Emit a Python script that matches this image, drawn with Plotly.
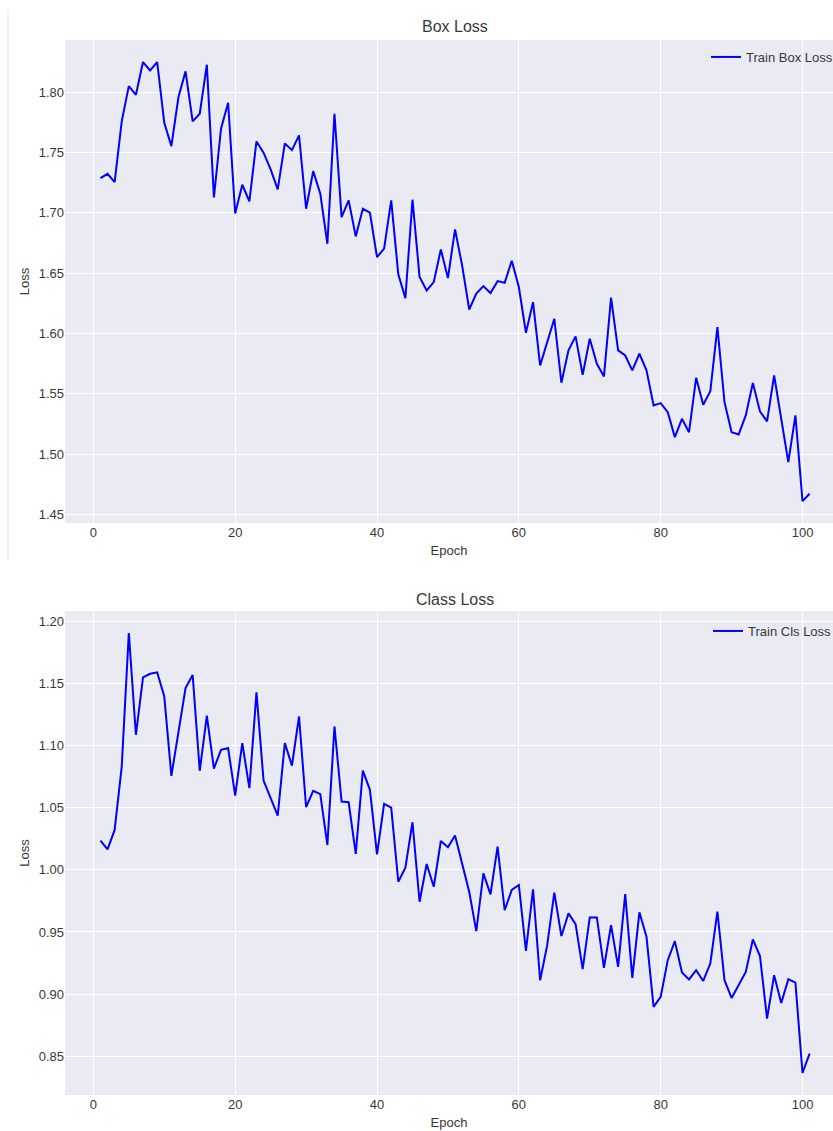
import plotly.graph_objects as go

epochs = list(range(1, 102))

box_loss = [
    1.7287, 1.7323, 1.7254, 1.7757, 1.8050, 1.7978, 1.8249, 1.8180, 1.8249, 1.7746,
    1.7552, 1.7959, 1.8172, 1.7757, 1.7821, 1.8227, 1.7127, 1.7697, 1.7912, 1.6994,
    1.7232, 1.7094, 1.7591, 1.7498, 1.7359, 1.7193, 1.7575, 1.7519, 1.7641, 1.7033,
    1.7345, 1.7158, 1.6743, 1.7821, 1.6964, 1.7102, 1.6804, 1.7033, 1.7000, 1.6632,
    1.6702, 1.7102, 1.6489, 1.6292, 1.7108, 1.6467, 1.6356, 1.6425, 1.6696, 1.6458,
    1.6862, 1.6563, 1.6198, 1.6329, 1.6392, 1.6334, 1.6433, 1.6420, 1.6602, 1.6384,
    1.6005, 1.6259, 1.5734, 1.5936, 1.6121, 1.5591, 1.5859, 1.5975, 1.5657, 1.5956,
    1.5748, 1.5643, 1.6296, 1.5859, 1.5817, 1.5693, 1.5831, 1.5693, 1.5403, 1.5422,
    1.5347, 1.5140, 1.5292, 1.5181, 1.5632, 1.5408, 1.5521, 1.6052, 1.5430, 1.5181,
    1.5162, 1.5320, 1.5588, 1.5353, 1.5270, 1.5651, 1.5292, 1.4933, 1.5320, 1.4609,
    1.4671,
]

cls_loss = [
    1.0235, 1.0165, 1.0321, 1.0831, 1.1906, 1.1087, 1.1549, 1.1578, 1.1589, 1.1396,
    1.0756, 1.1113, 1.1463, 1.1568, 1.0797, 1.1240, 1.0815, 1.0966, 1.0980, 1.0598,
    1.1020, 1.0657, 1.1428, 1.0718, 1.0577, 1.0436, 1.1020, 1.0839, 1.1234, 1.0504,
    1.0635, 1.0609, 1.0200, 1.1154, 1.0549, 1.0544, 1.0128, 1.0799, 1.0644, 1.0125,
    1.0531, 1.0501, 0.9904, 1.0017, 1.0383, 0.9743, 1.0047, 0.9864, 1.0232, 1.0182,
    1.0276, 1.0053, 0.9824, 0.9507, 0.9972, 0.9803, 1.0187, 0.9676, 0.9838, 0.9878,
    0.9348, 0.9843, 0.9112, 0.9394, 0.9816, 0.9467, 0.9650, 0.9563, 0.9201, 0.9617,
    0.9617, 0.9211, 0.9555, 0.9219, 0.9805, 0.9131, 0.9658, 0.9461, 0.8897, 0.8978,
    0.9273, 0.9426, 0.9174, 0.9118, 0.9193, 0.9106, 0.9247, 0.9663, 0.9112, 0.8969,
    0.9077, 0.9179, 0.9440, 0.9306, 0.8803, 0.9152, 0.8929, 0.9120, 0.9093, 0.8365,
    0.8521,
]

x_ticks = [0, 20, 40, 60, 80, 100]
box_ticks = [1.45, 1.50, 1.55, 1.60, 1.65, 1.70, 1.75, 1.80]
cls_ticks = [0.85, 0.90, 0.95, 1.00, 1.05, 1.10, 1.15, 1.20]

W, H = 833, 1131
ML, MR, MT, MB = 65, 0, 40, 36
PW = W - ML - MR
PH = H - MT - MB


def px_x(px):
    return (px - ML) / PW


def px_y(py):
    return (H - MB - py) / PH


FONT = "Liberation Sans, Arial, sans-serif"
TXT = "#383838"
BG = "#EAEAF2"

fig = go.Figure()
fig.add_trace(go.Scatter(x=epochs, y=box_loss, mode="lines", name="Train Box Loss",
                         line=dict(color="#0000FF", width=2), xaxis="x", yaxis="y",
                         legend="legend"))
fig.add_trace(go.Scatter(x=epochs, y=cls_loss, mode="lines", name="Train Cls Loss",
                         line=dict(color="#0000FF", width=2), xaxis="x2", yaxis="y2",
                         legend="legend2"))

axis_common = dict(showgrid=True, gridcolor="white", gridwidth=1, zeroline=False,
                   showline=False, ticks="", tickfont=dict(family=FONT, size=13, color=TXT),
                   automargin=False)

top_dom = [px_y(523), 1.0]
bot_dom = [0.0, px_y(611)]

fig.update_layout(
    width=W, height=H,
    margin=dict(l=ML, r=MR, t=MT, b=MB, autoexpand=False),
    paper_bgcolor="white",
    plot_bgcolor=BG,
    font=dict(family=FONT, size=13, color=TXT),
    xaxis=dict(domain=[0, 1], anchor="y", range=[-4, 104.3], tickvals=x_ticks,
               title=dict(text="Epoch", font=dict(size=13, color=TXT), standoff=6),
               **axis_common),
    yaxis=dict(domain=top_dom, anchor="x", range=[1.4428, 1.8432], tickvals=box_ticks,
               tickformat=".2f",
               title=dict(text="Loss", font=dict(size=13, color=TXT), standoff=6),
               **axis_common),
    xaxis2=dict(domain=[0, 1], anchor="y2", range=[-4, 104.3], tickvals=x_ticks,
                title=dict(text="Epoch", font=dict(size=13, color=TXT), standoff=6),
                **axis_common),
    yaxis2=dict(domain=bot_dom, anchor="x2", range=[0.8188, 1.2083], tickvals=cls_ticks,
                tickformat=".2f",
                title=dict(text="Loss", font=dict(size=13, color=TXT), standoff=6),
                **axis_common),
    legend=dict(xref="container", yref="container", x=706 / W, y=1 - 57 / H,
                xanchor="left", yanchor="middle",
                bgcolor="rgba(0,0,0,0)", font=dict(size=13, color=TXT)),
    legend2=dict(xref="container", yref="container", x=708 / W, y=1 - 631 / H,
                 xanchor="left", yanchor="middle",
                 bgcolor="rgba(0,0,0,0)", font=dict(size=13, color=TXT)),
    showlegend=True,
)

fig.add_annotation(text="Box Loss", xref="paper", yref="paper", x=px_x(455), y=px_y(27),
                   xanchor="center", yanchor="middle", showarrow=False,
                   font=dict(family=FONT, size=16, color=TXT))
fig.add_annotation(text="Class Loss", xref="paper", yref="paper", x=px_x(455), y=px_y(599),
                   xanchor="center", yanchor="middle", showarrow=False,
                   font=dict(family=FONT, size=16, color=TXT))

fig.add_shape(type="line", xref="paper", yref="paper", x0=px_x(8), x1=px_x(8),
              y0=px_y(10), y1=px_y(560), line=dict(color="#E3E3E3", width=1))

fig.write_html("out.html")
